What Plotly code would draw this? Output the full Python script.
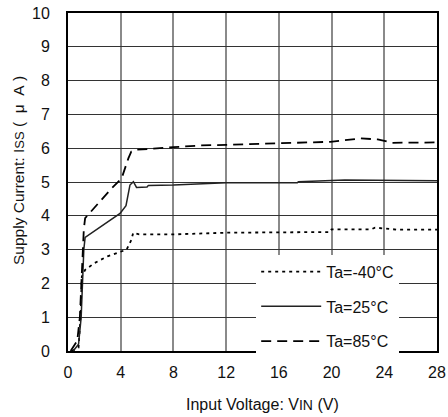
import plotly.graph_objects as go

# Input voltage (V) / supply current (uA)
x_m40 = [0.3, 0.8, 0.95, 1.05, 1.3, 2.0, 3.0, 4.0, 4.45, 4.8, 4.95, 5.4, 8.0, 12.0, 16.0, 19.9, 20.0, 23.0, 23.3, 25.0, 28.0]
y_m40 = [0.0, 0.1, 1.0, 2.2, 2.4, 2.6, 2.8, 2.95, 3.0, 3.28, 3.5, 3.45, 3.45, 3.5, 3.52, 3.52, 3.6, 3.6, 3.65, 3.59, 3.59]

x_25 = [0.4, 0.8, 1.0, 1.1, 1.2, 1.3, 2.0, 3.0, 3.95, 4.4, 4.7, 4.96, 5.2, 6.0, 6.1, 8.0, 12.0, 17.4, 17.5, 21.0, 24.7, 28.0]
y_25 = [0.0, 0.2, 1.0, 2.0, 3.0, 3.36, 3.55, 3.8, 4.07, 4.3, 4.91, 5.01, 4.84, 4.85, 4.9, 4.91, 4.98, 4.98, 5.01, 5.06, 5.05, 5.04]

x_85 = [0.2, 0.7, 0.9, 1.05, 1.2, 1.3, 2.0, 3.3, 4.07, 4.3, 4.58, 4.8, 5.08, 8.0, 10.0, 12.0, 19.9, 22.2, 23.5, 24.6, 28.0]
y_85 = [0.0, 0.3, 1.0, 2.5, 3.6, 3.93, 4.25, 4.81, 5.11, 5.4, 5.7, 5.9, 5.95, 6.03, 6.08, 6.1, 6.19, 6.29, 6.26, 6.16, 6.17]

names = ["Ta=-40°C", "Ta=25°C", "Ta=85°C"]
x_ticks = [0, 4, 8, 12, 16, 20, 24, 28]
y_ticks = [0, 1, 2, 3, 4, 5, 6, 7, 8, 9, 10]

FONT = "Liberation Sans, Arial, sans-serif"
NB = "\u00a0"

fig = go.Figure()
fig.add_trace(go.Scatter(x=x_m40, y=y_m40, mode="lines", name=names[0], legendgroup="a",
                         line=dict(color="black", width=1.8, dash="3px,4px")))
fig.add_trace(go.Scatter(x=x_25, y=y_25, mode="lines", name=names[1], legendgroup="b",
                         line=dict(color="#222", width=1.5)))
fig.add_trace(go.Scatter(x=x_85, y=y_85, mode="lines", name=names[2], legendgroup="c",
                         line=dict(color="black", width=1.8, dash="10px,6px")))

fig.add_annotation(xref="paper", yref="paper", x=-0.1355, y=0.5325, showarrow=False,
                   textangle=-90, xanchor="center", yanchor="middle",
                   font=dict(family=FONT, size=15.5, color="#111"),
                   text="Supply Current: I<span style='font-size:13px'>SS</span>" + NB + "(" + NB * 2 + "μ" + NB * 2 + "A" + NB + ")")
fig.add_annotation(xref="paper", yref="paper", x=0.527, y=-0.157, showarrow=False,
                   xanchor="center", yanchor="middle",
                   font=dict(family=FONT, size=16, color="#111"),
                   text="Input Voltage: V<span style='font-size:14px'>IN</span> (V)")

fig.update_layout(
    width=448, height=417,
    margin=dict(l=68, r=11, t=13, b=66),
    paper_bgcolor="white", plot_bgcolor="white",
    font=dict(family=FONT, size=16, color="#111"),
    showlegend=True,
    legend=dict(x=0.51, y=0.285, xanchor="left", yanchor="top", bgcolor="white",
                borderwidth=0, tracegroupgap=11, itemwidth=60,
                font=dict(family=FONT, size=16, color="#111"), traceorder="grouped"),
    xaxis=dict(range=[0, 28], tickvals=x_ticks, ticktext=[str(v) for v in x_ticks],
               showgrid=True, gridcolor="#8a8a8a", gridwidth=1.5,
               showline=True, linecolor="black", linewidth=2, mirror=True,
               ticks="outside", ticklen=6, tickcolor="rgba(0,0,0,0)",
               zeroline=False, automargin=False),
    yaxis=dict(range=[0, 10], tickvals=y_ticks, ticktext=[str(v) for v in y_ticks],
               showgrid=True, gridcolor="#333", gridwidth=1,
               showline=True, linecolor="black", linewidth=2, mirror=True,
               ticks="outside", ticklen=13, tickcolor="rgba(0,0,0,0)",
               zeroline=False, automargin=False),
)

fig.write_html("out.html", config={"displayModeBar": False},
               post_script="document.body.style.margin='0';document.body.style.overflow='hidden';")
